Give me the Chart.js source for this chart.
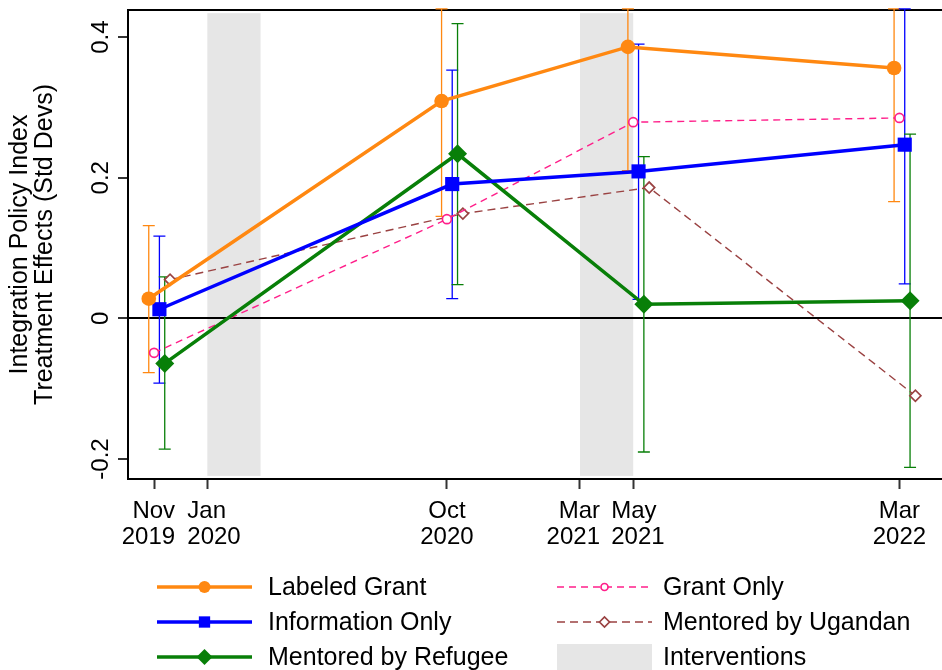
<!DOCTYPE html>
<html lang="en">
<head>
<meta charset="UTF-8">
<title>Integration Policy Index</title>
<script src="https://cdn.jsdelivr.net/npm/chart.js"></script>
<style>
  html, body { margin: 0; padding: 0; background: #fff; }
  #wrap { width: 942px; height: 670px; }
</style>
</head>
<body>
<div id="wrap"><canvas id="chart" width="942" height="670"></canvas></div>
<script>
// survey rounds, in months since Nov 2019
const rounds = [0, 11, 18, 28];
const xTickPos = [0, 2, 11, 16, 18, 28];
const xTickLabels = [['Nov', '2019'], ['Jan', '2020'], ['Oct', '2020'], ['Mar', '2021'], ['May', '2021'], ['Mar', '2022']];
const yTicks = [-0.2, 0, 0.2, 0.4];
const yTickLabels = ['-0.2', '0', '0.2', '0.4'];

// intervention windows (months since Nov 2019)
const bands = [[2, 4], [16, 18]];

// point estimates and 95% CI ends
const labeledGrant = [0.028, 0.309, 0.386, 0.356];
const labeledGrantLo = [-0.077, 0.145, 0.210, 0.166];
const labeledGrantHi = [0.132, 0.440, 0.440, 0.440];
const infoOnly = [0.013, 0.191, 0.209, 0.247];
const infoOnlyLo = [-0.092, 0.028, 0.027, 0.049];
const infoOnlyHi = [0.117, 0.353, 0.390, 0.440];
const mentoredRefugee = [-0.064, 0.234, 0.020, 0.025];
const mentoredRefugeeLo = [-0.186, 0.048, -0.190, -0.212];
const mentoredRefugeeHi = [0.059, 0.419, 0.230, 0.262];
const grantOnly = [-0.049, 0.141, 0.279, 0.285];
const mentoredUgandan = [0.055, 0.149, 0.186, -0.110];

const FONT = '"Liberation Sans", Arial, sans-serif';
const BAND = '#e6e6e6';
// crowded tick pairs are pushed apart, like the original
const xLabelAlign = ['right', 'left', 'center', 'right', 'left', 'center'];
const xLabelShift = [21, -20, 0, 20, -22, 0];

function pts(vals, shift) {
  return vals.map((v, i) => ({ x: rounds[i] + shift, y: v }));
}

const datasets = [
  { label: 'Labeled Grant', data: pts(labeledGrant, -0.2), lo: labeledGrantLo, hi: labeledGrantHi,
    borderColor: '#ff8811', backgroundColor: '#ff8811', borderWidth: 3.5,
    pointStyle: 'circle', pointRadius: 7.3, pointBorderWidth: 0, legendRadius: 6, col: 0, row: 0 },
  { label: 'Information Only', data: pts(infoOnly, 0.2), lo: infoOnlyLo, hi: infoOnlyHi,
    borderColor: '#0000ff', backgroundColor: '#0000ff', borderWidth: 3.5,
    pointStyle: 'rect', pointRadius: 10, pointBorderWidth: 0, legendRadius: 8, col: 0, row: 1 },
  { label: 'Mentored by Refugee', data: pts(mentoredRefugee, 0.4), lo: mentoredRefugeeLo, hi: mentoredRefugeeHi,
    borderColor: '#087f08', backgroundColor: '#087f08', borderWidth: 3.5,
    pointStyle: 'rectRot', pointRadius: 9.5, pointBorderWidth: 0, legendRadius: 8, col: 0, row: 2 },
  { label: 'Grant Only', data: pts(grantOnly, 0),
    borderColor: '#ff1f8a', backgroundColor: '#ffffff', borderWidth: 1.4, borderDash: [7, 5],
    pointStyle: 'circle', pointRadius: 4.5, pointBorderWidth: 1.7, legendRadius: 3.5, col: 1, row: 0 },
  { label: 'Mentored by Ugandan', data: pts(mentoredUgandan, 0.6),
    borderColor: '#9a4242', backgroundColor: '#ffffff', borderWidth: 1.4, borderDash: [8, 5],
    pointStyle: 'rectRot', pointRadius: 5.5, pointBorderWidth: 1.7, legendRadius: 5, col: 1, row: 1 }
];
datasets.forEach(d => {
  d.fill = false;
  d.tension = 0;
  d.pointBackgroundColor = d.backgroundColor;
  d.pointBorderColor = d.borderColor;
});

const backdrop = {
  id: 'backdrop',
  beforeDraw(chart) {
    const { ctx, scales: { x, y } } = chart;
    ctx.save();
    ctx.fillStyle = BAND;
    bands.forEach(b => {
      const x1 = x.getPixelForValue(b[0]), x2 = x.getPixelForValue(b[1]);
      const y1 = y.getPixelForValue(0.434), y2 = y.getPixelForValue(-0.224);
      ctx.fillRect(x1, y1, x2 - x1, y2 - y1);
    });
    ctx.restore();
  },
  beforeDatasetsDraw(chart) {
    const { ctx, chartArea, scales: { x, y } } = chart;
    ctx.save();
    // top frame
    ctx.strokeStyle = '#000';
    ctx.lineWidth = 2;
    ctx.beginPath();
    ctx.moveTo(chartArea.left, chartArea.top);
    ctx.lineTo(chartArea.right, chartArea.top);
    ctx.stroke();
    // error bars
    ctx.lineWidth = 1.3;
    chart.data.datasets.forEach(ds => {
      if (!ds.lo) return;
      ctx.strokeStyle = ds.borderColor;
      ds.data.forEach((p, i) => {
        const px = x.getPixelForValue(p.x);
        const y1 = y.getPixelForValue(ds.lo[i]), y2 = y.getPixelForValue(ds.hi[i]);
        ctx.beginPath();
        ctx.moveTo(px, y1); ctx.lineTo(px, y2);
        ctx.moveTo(px - 6, y1); ctx.lineTo(px + 6, y1);
        ctx.moveTo(px - 6, y2); ctx.lineTo(px + 6, y2);
        ctx.stroke();
      });
    });
    ctx.restore();
  },
  afterDraw(chart) {
    const { ctx, scales: { x, y } } = chart;
    ctx.save();
    ctx.fillStyle = '#000';
    // rotated y tick labels
    ctx.font = '24px ' + FONT;
    ctx.textAlign = 'center';
    ctx.textBaseline = 'alphabetic';
    yTicks.forEach((v, i) => {
      ctx.save();
      ctx.translate(108, y.getPixelForValue(v));
      ctx.rotate(-Math.PI / 2);
      ctx.fillText(yTickLabels[i], 0, 0);
      ctx.restore();
    });
    // x tick labels, two lines each
    xTickPos.forEach((v, i) => {
      const px = x.getPixelForValue(v) + xLabelShift[i];
      ctx.textAlign = xLabelAlign[i];
      ctx.fillText(xTickLabels[i][0], px, 518);
      ctx.fillText(xTickLabels[i][1], px, 544);
    });

    // legend, two columns
    const colLine = [157, 557], colText = [268, 663], rowY = [587, 622, 657];
    ctx.font = '25px ' + FONT;
    ctx.textAlign = 'left';
    ctx.textBaseline = 'middle';
    chart.data.datasets.forEach(ds => {
      const x0 = colLine[ds.col], yy = rowY[ds.row];
      ctx.strokeStyle = ds.borderColor;
      ctx.lineWidth = ds.borderWidth;
      ctx.setLineDash(ds.borderDash || []);
      ctx.beginPath();
      ctx.moveTo(x0, yy); ctx.lineTo(x0 + 95, yy);
      ctx.stroke();
      ctx.setLineDash([]);
      ctx.fillStyle = ds.pointBackgroundColor;
      ctx.strokeStyle = ds.pointBorderColor;
      ctx.lineWidth = ds.pointBorderWidth;
      Chart.helpers.drawPoint(ctx, { pointStyle: ds.pointStyle, radius: ds.legendRadius,
        borderWidth: ds.pointBorderWidth, rotation: 0 }, x0 + 47.5, yy);
      ctx.fillStyle = '#000';
      ctx.fillText(ds.label, colText[ds.col], yy + 1);
    });
    ctx.fillStyle = BAND;
    ctx.fillRect(colLine[1], 644, 95, 40);
    ctx.fillStyle = '#000';
    ctx.fillText('Interventions', colText[1], rowY[2] + 1);
    ctx.restore();
  }
};

new Chart(document.getElementById('chart'), {
  type: 'line',
  data: { datasets: datasets },
  options: {
    responsive: false,
    animation: false,
    layout: { autoPadding: false, padding: { top: 10, left: 0, right: 0, bottom: 0 } },
    plugins: { legend: { display: false }, tooltip: { enabled: false } },
    scales: {
      x: {
        type: 'linear',
        min: -0.98,
        max: 29.6,
        afterBuildTicks: s => { s.ticks = xTickPos.map(v => ({ value: v })); },
        afterFit: s => { s.height = 191; s.paddingLeft = 0; s.paddingRight = 0; },
        ticks: { display: false },
        grid: { drawOnChartArea: false, tickLength: 10, tickColor: '#333', tickWidth: 2 },
        border: { color: '#000', width: 2 }
      },
      y: {
        type: 'linear',
        min: -0.2284,
        max: 0.4385,
        afterBuildTicks: s => { s.ticks = yTicks.map(v => ({ value: v })); },
        afterFit: s => { s.width = 128; s.paddingTop = 0; s.paddingBottom = 0; },
        ticks: { display: false },
        grid: {
          color: c => (c.tick && c.tick.value === 0 ? '#000' : 'rgba(0,0,0,0)'),
          lineWidth: 2,
          tickLength: 10,
          tickColor: '#333',
          tickWidth: 2
        },
        border: { color: '#000', width: 2 },
        title: {
          display: true,
          text: ['Integration Policy Index', 'Treatment Effects (Std Devs)'],
          color: '#000',
          font: { family: FONT, size: 25, lineHeight: 1.0 },
          padding: { top: 8, bottom: 0 }
        }
      }
    }
  },
  plugins: [backdrop]
});
</script>
</body>
</html>
